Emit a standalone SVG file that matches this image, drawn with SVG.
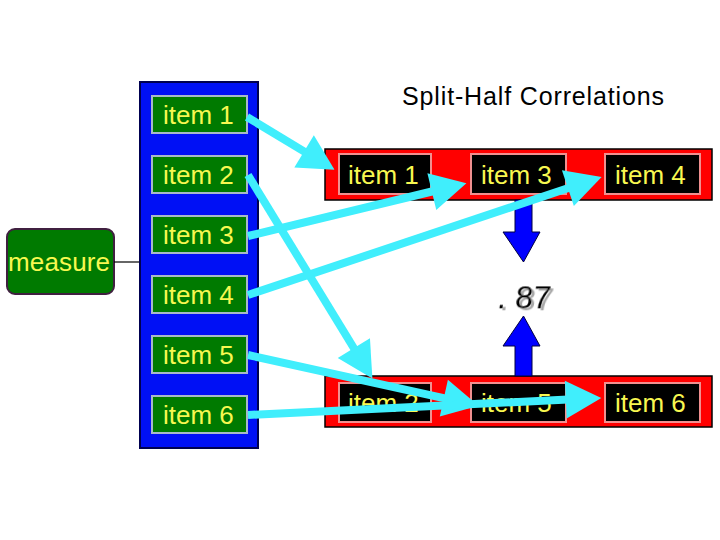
<svg xmlns="http://www.w3.org/2000/svg" width="720" height="540" viewBox="0 0 720 540">
<style>
.t{font-family:"Liberation Sans",Arial,sans-serif;font-size:26px;fill:#f8f850}
.g{fill:#007a00;stroke:#a8b8c8;stroke-width:2}
.k{fill:#000;stroke:#f09090;stroke-width:2}
.bar{fill:#ff0000;stroke:#000;stroke-width:1.5}
.cy{stroke:#40eefc;stroke-width:8;fill:none;marker-end:url(#ah)}
.ba{fill:#0000ff;stroke:#000040;stroke-width:1}
</style>
<defs>
<marker id="ah" markerUnits="userSpaceOnUse" markerWidth="40" markerHeight="40" viewBox="0 -18 34 36" refX="2" refY="0" orient="auto">
<path d="M0,-17 L32,0 L0,17 Z" fill="#40eefc"/>
</marker>
<filter id="sh" x="-20%" y="-20%" width="150%" height="150%">
<feDropShadow dx="3" dy="2" stdDeviation="0.5" flood-color="#a8a8a8"/>
</filter>
</defs>
<rect width="720" height="540" fill="#fff"/>
<text x="402" y="105" font-family="Liberation Sans,Arial,sans-serif" font-size="25" textLength="262" fill="#000">Split-Half Correlations</text>
<g id="measure">
<rect x="7" y="229" width="107" height="65" rx="8" fill="#007a00" stroke="#402040" stroke-width="2"/>
<text class="t" x="8" y="271" textLength="102">measure</text>
</g>
<line x1="114" y1="262" x2="140" y2="262" stroke="#000" stroke-width="1.2"/>
<g id="panel">
<rect x="140" y="82" width="118" height="366" fill="#0010f5" stroke="#000050" stroke-width="2"/>
</g>
<g id="item1"><rect class="g" x="152" y="96" width="95" height="37"/><text class="t" x="163" y="124">item 1</text></g>
<g id="item2"><rect class="g" x="152" y="156" width="95" height="37"/><text class="t" x="163" y="184">item 2</text></g>
<g id="item3"><rect class="g" x="152" y="216" width="95" height="37"/><text class="t" x="163" y="244">item 3</text></g>
<g id="item4"><rect class="g" x="152" y="276" width="95" height="37"/><text class="t" x="163" y="304">item 4</text></g>
<g id="item5"><rect class="g" x="152" y="336" width="95" height="37"/><text class="t" x="163" y="364">item 5</text></g>
<g id="item6"><rect class="g" x="152" y="396" width="95" height="37"/><text class="t" x="163" y="424">item 6</text></g>
<g id="topbar">
<rect class="bar" x="325" y="149" width="387" height="51"/>
<rect class="k" x="339" y="154" width="92" height="40"/><text class="t" x="348" y="184">item 1</text>
<rect class="k" x="471" y="154" width="95" height="40"/><text class="t" x="481" y="184">item 3</text>
<rect class="k" x="605" y="154" width="95" height="40"/><text class="t" x="615" y="184">item 4</text>
</g>
<g id="bottombar">
<rect class="bar" x="325" y="376" width="387" height="51"/>
<rect class="k" x="339" y="383" width="92" height="39"/><text class="t" x="348" y="412">item 2</text>
<rect class="k" x="471" y="383" width="95" height="39"/><text class="t" x="481" y="412">item 5</text>
<rect class="k" x="605" y="383" width="95" height="39"/><text class="t" x="615" y="412">item 6</text>
</g>
<g id="corr">
<text x="497" y="308" font-family="Liberation Sans,Arial,sans-serif" font-size="32" fill="#000" filter="url(#sh)" transform="skewX(-6) translate(32,0)">. 87</text>
</g>
<g id="blue-arrows">
<path class="ba" d="M515,200 L532,200 L532,232 L540,232 L523.5,262 L503,232 L515,232 Z"/>
<path class="ba" d="M515,376 L532,376 L532,346 L540,346 L523.5,316 L503,346 L515,346 Z"/>
</g>
<g id="connectors">
<line class="cy" x1="247" y1="117" x2="306" y2="152.6"/>
<line class="cy" x1="248" y1="175" x2="355" y2="350"/>
<line class="cy" x1="248" y1="236" x2="434" y2="191"/>
<line class="cy" x1="248" y1="295" x2="570" y2="187.5"/>
<line class="cy" x1="248" y1="355" x2="446" y2="398.6"/>
<line class="cy" x1="248" y1="415" x2="568" y2="399.5"/>
</g>
</svg>
